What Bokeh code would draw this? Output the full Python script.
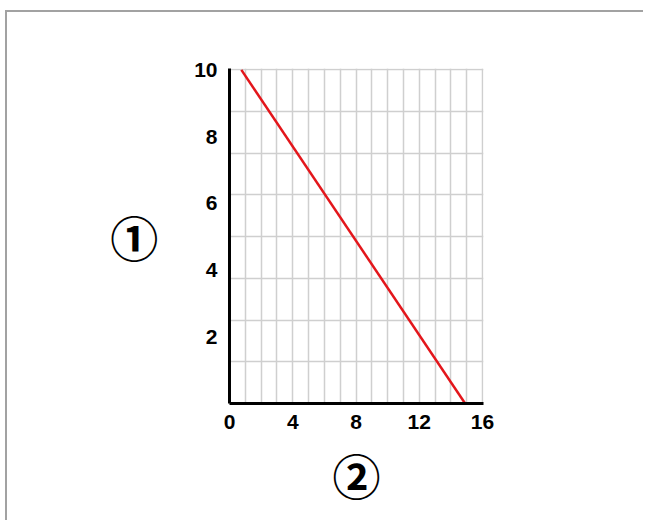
from bokeh.plotting import figure
from bokeh.models import FixedTicker, Range1d
from bokeh.embed import file_html
from bokeh.resources import INLINE

# ---- data ----
x_ticks = [0, 4, 8, 12, 16]
y_ticks = [2, 4, 6, 8, 10]
grid_x = [1, 2, 3, 4, 5, 6, 7, 8, 9, 10, 11, 12, 13, 14, 15, 16]
grid_y = [1.25, 2.5, 3.75, 5, 6.25, 7.5, 8.75, 10]
line_x = [0.75, 14.9]
line_y = [10, 0]
y_axis_name = "①"
x_axis_name = "②"

p = figure(width=638, height=510, output_backend="svg", toolbar_location=None,
           x_range=Range1d(0, 16.06), y_range=Range1d(0, 10.04),
           min_border_left=222, min_border_right=162,
           min_border_top=56, min_border_bottom=119,
           styles={"margin-left": "5px", "margin-top": "10px",
                   "border-top": "2px solid #a2a2a2",
                   "border-left": "2px solid #a2a2a2"})
p.outline_line_color = None
p.background_fill_color = "white"
p.border_fill_color = "white"

p.xgrid.ticker = FixedTicker(ticks=grid_x)
p.ygrid.ticker = FixedTicker(ticks=grid_y)
for g in (p.xgrid, p.ygrid):
    g.grid_line_color = "#cfcfcf"
    g.grid_line_width = 1.5
    g.grid_line_alpha = 1.0

p.xaxis.ticker = FixedTicker(ticks=x_ticks)
p.yaxis.ticker = FixedTicker(ticks=y_ticks)
for ax in (p.xaxis, p.yaxis):
    ax.axis_line_color = "black"
    ax.axis_line_width = 3
    ax.major_tick_line_color = None
    ax.minor_tick_line_color = None
    ax.major_label_text_font = "Liberation Sans"
    ax.major_label_text_font_style = "bold"
    ax.major_label_text_font_size = "21px"
    ax.major_label_text_color = "black"
    ax.axis_label_text_font = "Noto Sans CJK JP"
    ax.axis_label_text_font_style = "bold"
    ax.axis_label_text_font_size = "48px"
    ax.axis_label_text_color = "black"
p.xaxis.major_label_standoff = 5
p.yaxis.major_label_standoff = 6

p.xaxis.axis_label = x_axis_name
p.yaxis.axis_label = y_axis_name
p.yaxis.axis_label_orientation = "horizontal"
p.xaxis.axis_label_standoff = 7
p.yaxis.axis_label_standoff = 33

p.line(line_x, line_y, line_color="#e3161b", line_width=2.5)

open("out.html", "w").write(file_html(p, INLINE))
